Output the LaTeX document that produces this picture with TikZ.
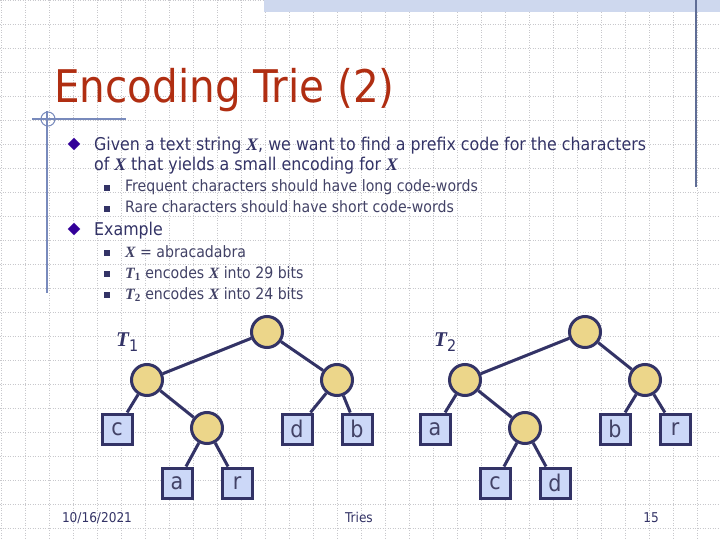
\documentclass[tikz,border=0pt]{standalone}
\usepackage{fontspec}
\setmainfont{DejaVu Sans Condensed}
\newfontfamily\serifit{Liberation Serif}
\usetikzlibrary{shapes.geometric}
\definecolor{titlered}{RGB}{176,46,18}
\definecolor{navy}{RGB}{51,51,102}
\definecolor{subnavy}{RGB}{66,66,102}
\definecolor{bulletblue}{RGB}{51,0,153}
\definecolor{gridgray}{RGB}{200,200,204}
\definecolor{accent}{RGB}{120,138,188}
\definecolor{band}{RGB}{206,216,238}
\definecolor{nodegold}{RGB}{236,214,138}
\definecolor{leafblue}{RGB}{204,216,248}
\newcommand{\bx}[1]{{\serifit\bfseries\itshape #1}}
\newcommand{\fs}[1]{\fontsize{#1}{#1}\selectfont}
\begin{document}
\begin{tikzpicture}[x=1pt,y=-1pt,
  inner/.style={circle,draw=navy,line width=3pt,fill=nodegold,minimum size=31pt,inner sep=0pt},
  leaf/.style={rectangle,draw=navy,line width=3pt,fill=leafblue,minimum size=30pt,inner sep=0pt,text=subnavy,font=\fs{23}},
  edge/.style={draw=navy,line width=3pt},
  mainline/.style={anchor=base west,inner sep=0pt,text=navy,font=\fs{17.6}},
  subline/.style={anchor=base west,inner sep=0pt,text=subnavy,font=\fs{15.7}},
  diam/.style={diamond,fill=bulletblue,draw=white,line width=0.6pt,minimum size=14pt,inner sep=0pt},
  sq/.style={rectangle,fill=navy,minimum size=6pt,inner sep=0pt},
  foot/.style={anchor=base,inner sep=0pt,text=navy,font=\fs{13.5}}]
\useasboundingbox (0,0) rectangle (720,540);
% Background
\path[fill=white] (0,0) rectangle (720,540);
\foreach \gx in {1,25,...,697}
  \path[draw,gridgray,line width=0.6pt,dash pattern=on 1pt off 1.5pt] (\gx,0) -- (\gx,540);
\foreach \gy in {0,24,...,528}
  \path[draw,gridgray,line width=0.6pt,dash pattern=on 1pt off 1.5pt] (0,\gy) -- (720,\gy);
\path[fill=band] (264,0) rectangle (720,12);
\path[draw,accent!80!black,line width=1.5pt] (696,0) -- (696,187);
\path[draw,accent,line width=1.2pt] (32,119) -- (126,119);
\path[draw,accent,line width=1.2pt] (47,111) -- (47,293);
\path[draw,accent,line width=1pt] (48,119) circle (7);
% Title and bullets
\node[anchor=base west,inner sep=0pt,text=titlered,font=\fs{45}] (title) at (54,103) {Encoding Trie (2)};
\node[diam] (d1) at (74,144) {};
\node[mainline] (given) at (94,151) {Given a text string \bx{X}, we want to find a prefix code for the characters};
\node[mainline] (givencont) at (94,171) {of \bx{X} that yields a small encoding for \bx{X}};
\node[sq] (s1) at (107,188) {};
\node[subline] (freq) at (125,192) {Frequent characters should have long code-words};
\node[sq] (s2) at (107,209) {};
\node[subline] (rare) at (125,213) {Rare characters should have short code-words};
\node[diam] (d2) at (74,229) {};
\node[mainline] (example) at (94,236) {Example};
\node[sq] (s3) at (107,253) {};
\node[subline] (exx) at (125,257) {\bx{X} = abracadabra};
\node[sq] (s4) at (107,274) {};
\node[subline] (ext1) at (125,278) {\bx{T}\textsubscript{\serifit\bfseries 1} encodes \bx{X} into 29 bits};
\node[sq] (s5) at (107,295) {};
\node[subline] (ext2) at (125,299) {\bx{T}\textsubscript{\serifit\bfseries 2} encodes \bx{X} into 24 bits};
% Tree T1
\node[anchor=base west,inner sep=0pt,text=navy,font=\fs{21}] (lab1) at (116,346) {\bx{T}\raisebox{-5pt}{\fs{16}1}};
\node[inner] (t1root) at (267,332) {};
\node[inner] (t1u) at (147,380) {};
\node[inner] (t1v) at (337,380) {};
\node[leaf] (t1c) at (117,429) {c};
\node[inner] (t1w) at (207,428) {};
\node[leaf] (t1d) at (297,429) {d};
\node[leaf] (t1b) at (357,429) {b};
\node[leaf] (t1a) at (177,483) {a};
\node[leaf] (t1r) at (237,483) {r};
\path[edge] (t1root) -- (t1u) (t1root) -- (t1v) (t1u) -- (t1c) (t1u) -- (t1w)
  (t1v) -- (t1d) (t1v) -- (t1b) (t1w) -- (t1a) (t1w) -- (t1r);
% Tree T2
\node[anchor=base west,inner sep=0pt,text=navy,font=\fs{21}] (lab2) at (434,346) {\bx{T}\raisebox{-5pt}{\fs{16}2}};
\node[inner] (t2root) at (585,332) {};
\node[inner] (t2u) at (465,380) {};
\node[inner] (t2v) at (645,380) {};
\node[leaf] (t2a) at (435,429) {a};
\node[inner] (t2w) at (525,428) {};
\node[leaf] (t2b) at (615,429) {b};
\node[leaf] (t2r) at (675,429) {r};
\node[leaf] (t2c) at (495,483) {c};
\node[leaf] (t2d) at (555,483) {d};
\path[edge] (t2root) -- (t2u) (t2root) -- (t2v) (t2u) -- (t2a) (t2u) -- (t2w)
  (t2v) -- (t2b) (t2v) -- (t2r) (t2w) -- (t2c) (t2w) -- (t2d);
% Footer
\node[foot] (date) at (97,522) {10/16/2021};
\node[foot] (topic) at (359,522) {Tries};
\node[foot] (page) at (651,522) {15};
\end{tikzpicture}
\end{document}
